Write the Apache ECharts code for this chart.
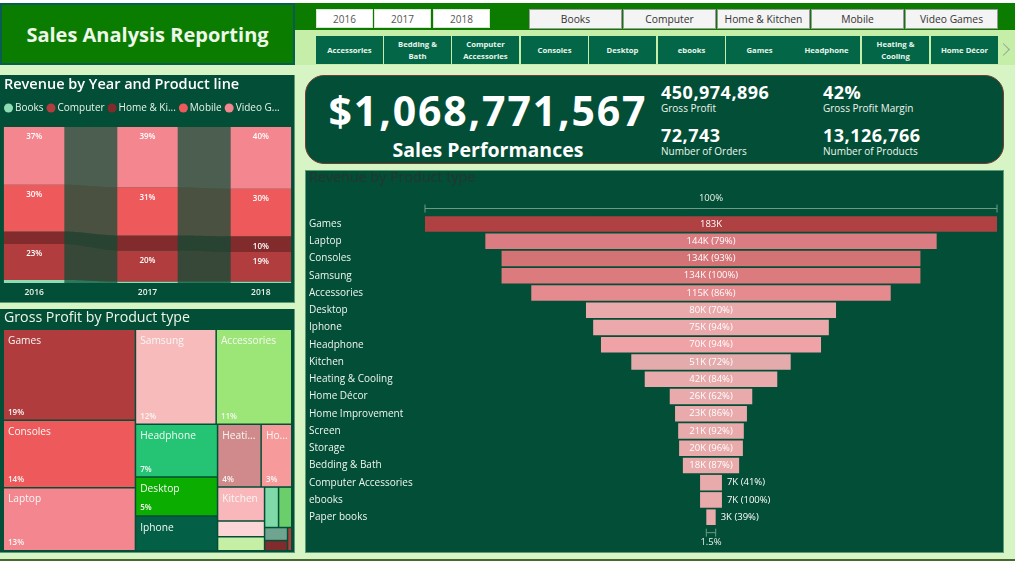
<!DOCTYPE html>
<html>
<head>
<meta charset="utf-8">
<title>Sales Analysis Reporting</title>
<script src="https://cdn.jsdelivr.net/npm/echarts@6/dist/echarts.min.js"></script>
<style>
  html, body { margin: 0; padding: 0; }
  body { width: 1015px; height: 561px; position: relative; overflow: hidden; background: #d6f4c4; font-family: "Open Sans", sans-serif; }
  .box { position: absolute; box-sizing: border-box; }
  .btn { position: absolute; box-sizing: border-box; display: flex; align-items: center; justify-content: center; text-align: center; }
  .year { top: 9px; height: 19px; width: 57px; background: #fff; border: 1px solid #d8e8d0; color: #555; font-size: 10px; }
  .line { top: 9px; height: 20px; width: 93px; background: #f4f4f4; border: 1px solid #9a9a9a; color: #333; font-size: 10.3px; }
  .chip { top: 36px; height: 28px; width: 67px; background: #036647; color: #e8f5ec; font-size: 7.7px; font-weight: 700; line-height: 12px; }
  .kpi { position: absolute; color: #fff; white-space: nowrap; }
  .kpi.num { font-size: 18px; font-weight: 700; letter-spacing: 0.5px; line-height: 20px; }
  .kpi.cap { font-size: 10px; line-height: 12px; color: #eef6ef; }
  .chart { position: absolute; }
</style>
</head>
<body>
<div class="box" style="left:0;top:0;width:1015px;height:3px;background:#fff"></div>
<div class="box" style="left:295px;top:3px;width:720px;height:27px;background:#0b7c00"></div>
<div class="box" style="left:295px;top:30px;width:720px;height:35px;background:#c5eea8"></div>
<div class="box" style="left:0;top:3px;width:295px;height:62px;background:#0a7c00;border:2px solid #0b5b55;color:#eef7ea;font-size:20px;font-weight:700;display:flex;align-items:center;justify-content:center">Sales Analysis Reporting</div>
<div id="yearButtons"></div>
<div id="lineButtons"></div>
<div id="chipButtons"></div>
<div class="box" style="left:999px;top:45px;width:9px;height:9px;border-top:1px solid #9aa596;border-right:1px solid #9aa596;transform:rotate(45deg)"></div>

<div class="box" style="left:0;top:75px;width:295px;height:228px;background:#034e36;border-right:1px solid #5d9a78;border-bottom:1px solid #5d9a78"></div>
<div id="ribbon" class="chart" style="left:0;top:75px;width:294px;height:227px"></div>

<div class="box" style="left:0;top:309px;width:295px;height:244px;background:#034e36;border-right:1px solid #5d9a78;border-bottom:1px solid #5d9a78"></div>
<div id="treemap" class="chart" style="left:0;top:309px;width:295px;height:244px"></div>

<div class="box" style="left:305px;top:75px;width:699px;height:89px;background:#034e36;border:1px solid #7a3b32;border-radius:19px"></div>
<div class="kpi" style="left:305px;width:366px;text-align:center;top:83px;font-size:41px;font-weight:700;line-height:54px;letter-spacing:1.85px">$1,068,771,567</div>
<div class="kpi" style="left:305px;width:366px;text-align:center;top:136px;font-size:19.5px;font-weight:700;line-height:27px">Sales Performances</div>
<div class="kpi num" style="left:661px;top:82px">450,974,896</div>
<div class="kpi cap" style="left:661px;top:102px">Gross Profit</div>
<div class="kpi num" style="left:823px;top:82px">42%</div>
<div class="kpi cap" style="left:823px;top:102px">Gross Profit Margin</div>
<div class="kpi num" style="left:661px;top:125px">72,743</div>
<div class="kpi cap" style="left:661px;top:145px">Number of Orders</div>
<div class="kpi num" style="left:823px;top:125px">13,126,766</div>
<div class="kpi cap" style="left:823px;top:145px">Number of Products</div>

<div class="box" style="left:305px;top:170px;width:699px;height:383px;background:#034e36;border:1px solid #5d9a78"></div>
<div id="funnel" class="chart" style="left:305px;top:170px;width:699px;height:383px"></div>
<div class="box" style="left:0;top:559px;width:1015px;height:2px;background:#47682f"></div>

<script>
// slicers
const yearSlicer = ['2016', '2017', '2018'];
const lineSlicer = ['Books', 'Computer', 'Home & Kitchen', 'Mobile', 'Video Games'];
const typeSlicer = ['Accessories', 'Bedding &<br>Bath', 'Computer<br>Accessories', 'Consoles', 'Desktop', 'ebooks', 'Games', 'Headphone', 'Heating &<br>Cooling', 'Home Décor'];

// revenue share by year, stacked bottom to top
const years = ['2016', '2017', '2018'];
const lineNames = ['Books', 'Computer', 'Home & Kitchen', 'Mobile', 'Video Games'];
const legendNames = ['Books', 'Computer', 'Home & Ki...', 'Mobile', 'Video G...'];
const books = [2, 0.9, 0.9];
const computer = [23, 20, 19];
const homeKitchen = [8, 9.6, 10];
const mobile = [30, 30.8, 30.5];
const videoGames = [37, 38.7, 39.6];
const booksLabels = ['', '', ''];
const computerLabels = ['23%', '20%', '19%'];
const homeKitchenLabels = ['', '', '10%'];
const mobileLabels = ['30%', '31%', '30%'];
const videoGamesLabels = ['37%', '39%', '40%'];

// gross profit share by product type
const profitTypes = ['Games', 'Consoles', 'Laptop', 'Samsung', 'Accessories', 'Headphone', 'Desktop', 'Iphone', 'Heating & Cooling', 'Home Décor', 'Kitchen', 'Home Improvement', 'Screen', 'Storage', 'Bedding & Bath', 'Computer Accessories', 'ebooks', 'Paper books'];
const profitShare = [18.5, 13.7, 12.8, 11.8, 11.05, 6.65, 4.9, 4.4, 4.2, 2.95, 2.45, 1.13, 1.02, 0.87, 0.82, 0.46, 0.36, 0.15];
const profitLabels = ['19%', '14%', '13%', '12%', '11%', '7%', '5%', '', '4%', '3%', '', '', '', '', '', '', '', ''];

// revenue by product type, in thousands, and % of the previous row
const revenueTypes = ['Games', 'Laptop', 'Consoles', 'Samsung', 'Accessories', 'Desktop', 'Iphone', 'Headphone', 'Kitchen', 'Heating & Cooling', 'Home Décor', 'Home Improvement', 'Screen', 'Storage', 'Bedding & Bath', 'Computer Accessories', 'ebooks', 'Paper books'];
const revenue = [183, 144.4, 134, 134, 115, 80, 75.4, 70.4, 51, 42.4, 26.4, 23, 21, 20.4, 18, 7, 7, 3];
const revenueStep = [null, 79, 93, 100, 86, 70, 94, 94, 72, 84, 62, 86, 92, 96, 87, 41, 100, 39];

// colours
const lineColors = ['#8fdcb4', '#b23d3f', '#812b2c', '#ee5a5c', '#f4868f'];
const profitColors = ['#b13c3e', '#ee5a5c', '#f4868f', '#f8bbbb', '#9ce677', '#24c474', '#0bad00', '#036046', '#d08a8b', '#f69a9c', '#f9b7bb', '#fcd6d6', '#c5efa5', '#7fd9a8', '#6ace6a', '#6fa590', '#812b2c', '#b23d3f'];
const revenueColors = ['#af4143', '#db7c82', '#d37375', '#db7b7e', '#e58a8f', '#eaa9ab', '#eba9ab', '#efa3a7', '#e4abad', '#e8aaab', '#e8aaab', '#e8aaab', '#e8aaab', '#e8aaab', '#e8aaab', '#e8aaab', '#e8aaab', '#e8aaab'];

const fontName = '"Open Sans", sans-serif';

// slicer buttons
function addButtons(hostId, cls, labels, lefts) {
  const host = document.getElementById(hostId);
  labels.forEach((label, i) => {
    const el = document.createElement('div');
    el.className = 'btn ' + cls;
    el.style.left = lefts[i] + 'px';
    el.innerHTML = label.replace(' & ', ' &amp; ');
    host.appendChild(el);
  });
}
addButtons('yearButtons', 'year', yearSlicer, [316, 374, 433]);
addButtons('lineButtons', 'line', lineSlicer, [529, 623, 717, 811, 905]);
addButtons('chipButtons', 'chip', typeSlicer, [316, 384, 452, 521, 589, 658, 726, 793, 862, 931]);

// ribbon chart: stacked bars plus bands between the bars
const lineValues = [books, computer, homeKitchen, mobile, videoGames];
const lineLabels = [booksLabels, computerLabels, homeKitchenLabels, mobileLabels, videoGamesLabels];
const barShare = 0.534;

function stackBase(lineIdx, yearIdx) {
  let sum = 0;
  for (let i = 0; i < lineIdx; i++) sum += lineValues[i][yearIdx];
  return sum;
}

const ribbonBands = [];
lineNames.forEach((name, l) => {
  for (let y = 0; y < years.length - 1; y++) {
    ribbonBands.push([y, stackBase(l, y), stackBase(l, y) + lineValues[l][y], stackBase(l, y + 1), stackBase(l, y + 1) + lineValues[l][y + 1], l]);
  }
});

function renderBand(params, api) {
  const y = api.value(0);
  const half = api.size([1, 0])[0] * barShare / 2;
  const x0 = api.coord([y, 0])[0] + half;
  const x1 = api.coord([y + 1, 0])[0] - half;
  const top = [], bottom = [];
  for (let s = 0; s <= 24; s++) {
    const t = s / 24;
    const e = t * t * (3 - 2 * t);
    const x = x0 + (x1 - x0) * t;
    bottom.push([x, api.coord([y, api.value(1) + (api.value(3) - api.value(1)) * e])[1]]);
    top.push([x, api.coord([y, api.value(2) + (api.value(4) - api.value(2)) * e])[1]]);
  }
  return {
    type: 'polygon',
    shape: { points: top.concat(bottom.reverse()) },
    style: { fill: lineColors[api.value(5)], opacity: 0.3 }
  };
}

const ribbonChart = echarts.init(document.getElementById('ribbon'));
ribbonChart.setOption({
  animation: false,
  textStyle: { fontFamily: fontName },
  title: {
    text: 'Revenue by Year and Product line',
    left: 4, top: 2, padding: 0,
    textStyle: { color: '#fff', fontSize: 14.5, fontWeight: 600, fontFamily: fontName }
  },
  legend: {
    data: lineNames,
    left: 4, top: 28, padding: 0,
    icon: 'circle',
    itemWidth: 9, itemHeight: 9, itemGap: 3,
    formatter: name => legendNames[lineNames.indexOf(name)],
    textStyle: { color: '#e8f3ea', fontSize: 10, padding: [0, 0, 0, -3], fontFamily: fontName }
  },
  grid: { left: -22.5, width: 340, top: 52, height: 156, outerBoundsMode: 'none', containLabel: false },
  xAxis: {
    type: 'category',
    data: years,
    axisLine: { show: false },
    axisTick: { show: false },
    axisLabel: { color: '#e8f3ea', fontSize: 8.5, fontWeight: 600, margin: 5 }
  },
  yAxis: { type: 'value', min: 0, max: 100, show: false },
  series: lineNames.map((name, l) => ({
    name: name,
    type: 'bar',
    stack: 'share',
    barWidth: (barShare * 100) + '%',
    data: lineValues[l],
    itemStyle: { color: lineColors[l] },
    label: {
      show: true,
      position: 'insideTop',
      distance: 6,
      color: '#fff',
      fontSize: 8,
      fontWeight: 600,
      formatter: p => lineLabels[l][p.dataIndex]
    }
  })).concat([{
    type: 'custom',
    renderItem: renderBand,
    data: ribbonBands,
    silent: true,
    z: 1,
    encode: { x: 0, y: 1 }
  }])
});

// treemap: names on top, a second see-through layer carries the percent at the bottom
const profitData = profitTypes.map((name, i) => ({
  name: name,
  value: profitShare[i],
  itemStyle: { color: profitColors[i] },
  label: { show: i <= 10 }
}));
const profitPercent = profitTypes.map((name, i) => ({
  name: name,
  value: profitShare[i],
  itemStyle: { color: 'rgba(0,0,0,0)' },
  label: { show: profitLabels[i] !== '', formatter: profitLabels[i] }
}));
const treemapBase = {
  type: 'treemap',
  left: 4, top: 21, width: 287, height: 220,
  squareRatio: 1.8,
  roam: false,
  nodeClick: false,
  breadcrumb: { show: false }
};

const treemapChart = echarts.init(document.getElementById('treemap'));
treemapChart.setOption({
  animation: false,
  textStyle: { fontFamily: fontName },
  title: {
    text: 'Gross Profit by Product type',
    left: 4, top: 2, padding: 0,
    textStyle: { color: '#eef7ea', fontSize: 14.2, fontWeight: 500, fontFamily: fontName }
  },
  tooltip: { show: false },
  series: [
    Object.assign({}, treemapBase, {
      data: profitData,
      itemStyle: { borderWidth: 0, gapWidth: 1.5, borderColor: '#034e36' },
      label: { position: 'insideTopLeft', color: '#f6f8f4', fontSize: 10.2, padding: [6, 0, 0, 4], fontFamily: fontName }
    }),
    Object.assign({}, treemapBase, {
      data: profitPercent,
      silent: true,
      itemStyle: { borderWidth: 0, gapWidth: 1.5, borderColor: 'rgba(0,0,0,0)' },
      label: { position: 'insideBottomLeft', color: '#f6f8f4', fontSize: 8, fontWeight: 600, padding: [0, 3, 3, 4], fontFamily: fontName }
    })
  ]
});

// funnel: centred bars, a hidden spacer pushes each row in from the left
const maxRevenue = Math.max(...revenue);
const spacer = revenue.map(v => (maxRevenue - v) / 2);
const lastRow = revenue.length - 1;
const rowLabels = revenue.map((v, i) => Math.round(v) + 'K' + (revenueStep[i] === null ? '' : ' (' + revenueStep[i] + '%)'));
const brackets = [
  [0, maxRevenue, 0, -15.5, Math.round(revenue[0] / maxRevenue * 100) + '%', -10],
  [spacer[lastRow], spacer[lastRow] + revenue[lastRow], lastRow, 15.5, '1.5%', 10]
];

function renderBracket(params, api) {
  const yOff = api.value(3);
  const yy = api.coord([0, api.value(2)])[1] + yOff;
  const x0 = api.coord([api.value(0), 0])[0];
  const x1 = api.coord([api.value(1), 0])[0];
  const lineStyle = { stroke: '#6f9a86', lineWidth: 1 };
  return {
    type: 'group',
    children: [
      { type: 'line', shape: { x1: x0, y1: yy, x2: x1, y2: yy }, style: lineStyle },
      { type: 'line', shape: { x1: x0, y1: yy - 4, x2: x0, y2: yy + 4 }, style: lineStyle },
      { type: 'line', shape: { x1: x1, y1: yy - 4, x2: x1, y2: yy + 4 }, style: lineStyle },
      {
        type: 'text',
        style: {
          text: brackets[params.dataIndex][4],
          x: (x0 + x1) / 2,
          y: yy + brackets[params.dataIndex][5],
          align: 'center',
          verticalAlign: 'middle',
          fill: '#e8f3ea',
          fontSize: 9.5,
          fontFamily: fontName
        }
      }
    ]
  };
}

const funnelChart = echarts.init(document.getElementById('funnel'));
funnelChart.setOption({
  animation: false,
  textStyle: { fontFamily: fontName },
  title: {
    text: 'Revenue by Product type',
    left: 4, top: 0, padding: [1, 0, 0, 0],
    textStyle: { color: '#23372f', fontSize: 14.3, fontWeight: 400, fontFamily: fontName }
  },
  grid: { left: 120, width: 572, top: 45.4, height: 310.4, outerBoundsMode: 'none' },
  xAxis: { type: 'value', min: 0, max: maxRevenue, show: false },
  yAxis: {
    type: 'category',
    inverse: true,
    data: revenueTypes,
    axisLine: { show: false },
    axisTick: { show: false },
    axisLabel: { color: '#f0f6f1', fontSize: 10, align: 'left', margin: 116 }
  },
  series: [
    { type: 'bar', stack: 'funnel', silent: true, data: spacer, barWidth: 15.6, itemStyle: { color: 'rgba(0,0,0,0)' } },
    {
      type: 'bar',
      stack: 'funnel',
      barWidth: 15.6,
      data: revenue.map((v, i) => ({
        value: v,
        itemStyle: { color: revenueColors[i] },
        label: { position: v < 15 ? 'right' : 'inside' }
      })),
      label: {
        show: true,
        color: '#fff',
        fontSize: 9.5,
        formatter: p => rowLabels[p.dataIndex]
      }
    },
    { type: 'custom', renderItem: renderBracket, data: brackets, silent: true, encode: { x: 0, y: 2 } }
  ]
});
</script>
</body>
</html>
